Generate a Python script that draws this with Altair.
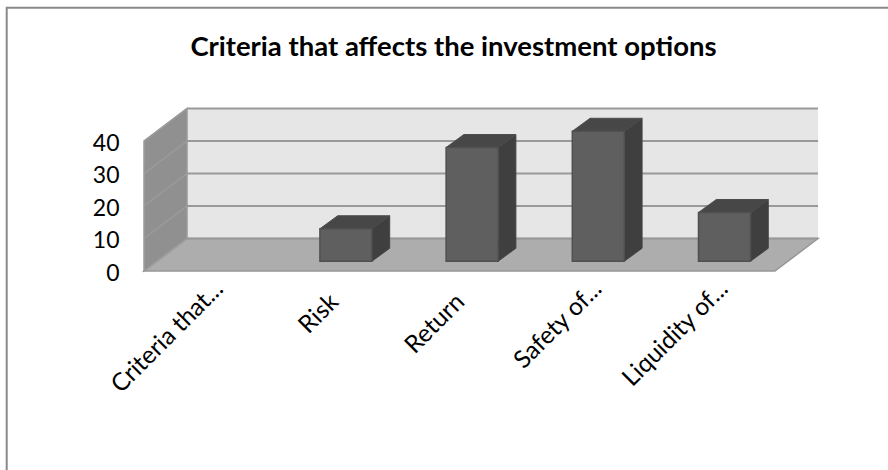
import json
import altair as alt
import pandas as pd

# Chart values
categories = ["Criteria that...", "Risk", "Return", "Safety of...", "Liquidity of..."]
values = [0, 10, 35, 40, 15]
y_ticks = [0, 10, 20, 30, 40]

# Oblique projection, in axis units: how far the back wall sits from the front plane
DEPTH_X = 0.341
DEPTH_Y = 10
# Bars stand in the middle of the floor
GAP_X, GAP_Y = 0.1, 3
BAR_DX, BAR_DY = 0.141, 4
BAR_W = 0.412
N = len(categories)
TOP = max(y_ticks)

FONT = "Lato"
VIEW_W, VIEW_H = 882, 463
x_scale = alt.Scale(domain=[0, N + DEPTH_X], range=[138, 812], nice=False, zero=False)
y_scale = alt.Scale(domain=[0, TOP + DEPTH_Y], range=[264, 101.5], nice=False, zero=False)

# Labels without a trailing ellipsis sit further down their slant
short_labels = "datum.value == 1.5 || datum.value == 2.5"
x_axis = alt.Axis(
    values=[i + 0.5 for i in range(N)],
    labelExpr=json.dumps(categories) + "[datum.value - 0.5]",
    labelAngle=-45,
    labelAlign="right",
    labelBaseline="middle",
    labelOffset={"condition": {"test": short_labels, "value": 1}, "value": 12},
    labelPadding={"condition": {"test": short_labels, "value": 27}, "value": 14},
    labelFont=FONT,
    labelFontSize=24.5,
    labelColor="#000000",
    labelOverlap=False,
    labelBound=False,
    labelFlush=False,
    domain=False,
    ticks=False,
    grid=False,
    title=None,
    offset=264 - VIEW_H,
)
y_axis = alt.Axis(
    values=y_ticks,
    labelFont=FONT,
    labelFontSize=23,
    labelColor="#000000",
    labelPadding=0,
    labelOffset=2,
    domain=False,
    ticks=False,
    grid=False,
    title=None,
    offset=-113,
)

X = alt.X("x:Q", scale=x_scale, axis=x_axis)
X2 = alt.X2("x2:Q")
Y = alt.Y("y:Q", scale=y_scale, axis=y_axis)
Y2 = alt.Y2("y2:Q")

# Back wall, side wall and floor
back = pd.DataFrame([{"x": DEPTH_X, "x2": N + DEPTH_X, "y": DEPTH_Y, "y2": TOP + DEPTH_Y}])
side = pd.DataFrame(
    [{"x": 0, "y": 0, "y2": TOP}, {"x": DEPTH_X, "y": DEPTH_Y, "y2": TOP + DEPTH_Y}]
)
floor = pd.DataFrame(
    [{"y": 0, "x": 0, "x2": N}, {"y": DEPTH_Y, "x": DEPTH_X, "x2": N + DEPTH_X}]
)

back_layer = alt.Chart(back).mark_rect(color="#e6e6e6").encode(x=X, x2=X2, y=Y, y2=Y2)
side_layer = alt.Chart(side).mark_area(color="#909090", stroke="#9c9c9c", strokeWidth=1.5).encode(
    x=X, y=Y, y2=Y2
)
floor_layer = alt.Chart(floor).mark_area(
    orient="horizontal", color="#adadad", stroke="#969696", strokeWidth=1.5
).encode(y=Y, x=X, x2=X2)

# Gridlines run along the side wall, then across the back wall
side_rows, back_rows = [], []
for t in y_ticks:
    side_rows += [
        {"t": t, "x": 0, "y": t},
        {"t": t, "x": DEPTH_X, "y": t + DEPTH_Y},
    ]
    back_rows += [
        {"t": t, "x": DEPTH_X, "y": t + DEPTH_Y},
        {"t": t, "x": N + DEPTH_X, "y": t + DEPTH_Y},
    ]
side_grid = alt.Chart(pd.DataFrame(side_rows)).mark_line(
    color="#9c9c9c", strokeWidth=1.5
).encode(x=X, y=Y, detail="t:N")
back_grid = alt.Chart(pd.DataFrame(back_rows)).mark_line(
    color="#999999", strokeWidth=2
).encode(x=X, y=Y, detail="t:N")

# Three visible faces per bar
front_rows, right_rows, top_rows = [], [], []
for i, v in enumerate(values):
    if v <= 0:
        continue
    left = i + 0.5 - BAR_W / 2 + GAP_X
    right = left + BAR_W
    front_rows.append({"x": left, "x2": right, "y": GAP_Y, "y2": GAP_Y + v})
    right_rows += [
        {"b": i, "x": right, "y": GAP_Y, "y2": GAP_Y + v},
        {"b": i, "x": right + BAR_DX, "y": GAP_Y + BAR_DY, "y2": GAP_Y + BAR_DY + v},
    ]
    top_rows += [
        {"b": i, "y": GAP_Y + v, "x": left, "x2": right},
        {"b": i, "y": GAP_Y + v + BAR_DY, "x": left + BAR_DX, "x2": right + BAR_DX},
    ]

front_layer = alt.Chart(pd.DataFrame(front_rows)).mark_rect(
    color="#5f5f5f", stroke="#505050", strokeWidth=1.5
).encode(x=X, x2=X2, y=Y, y2=Y2)
right_layer = alt.Chart(pd.DataFrame(right_rows)).mark_area(
    color="#3f3f3f", stroke="#454545", strokeWidth=1
).encode(x=X, y=Y, y2=Y2, detail="b:N")
top_layer = alt.Chart(pd.DataFrame(top_rows)).mark_area(
    orient="horizontal", color="#474747", stroke="#4c4c4c", strokeWidth=1
).encode(y=Y, x=X, x2=X2, detail="b:N")

# Outer frame: only its top and left edges fall inside the canvas
frame_top = alt.Chart().mark_rule(color="#898989", strokeWidth=2).encode(
    x=alt.value(0), x2=alt.value(VIEW_W), y=alt.value(0.7)
)
frame_left = alt.Chart().mark_rule(color="#898989", strokeWidth=2).encode(
    x=alt.value(0.7), y=alt.value(0), y2=alt.value(VIEW_H)
)

chart = (
    alt.layer(
        back_layer, side_layer, floor_layer, side_grid, back_grid,
        right_layer, top_layer, front_layer, frame_top, frame_left,
    )
    .properties(
        width=VIEW_W,
        height=VIEW_H,
        padding={"left": 6, "top": 7, "right": 0, "bottom": 0},
        autosize=alt.AutoSizeParams(type="none"),
        background="#ffffff",
        title=alt.TitleParams(
            "Criteria that affects the investment options",
            anchor="middle",
            frame="group",
            font=FONT,
            fontSize=27.5,
            fontWeight="bold",
            color="#000000",
            dx=6.5,
            offset=-55,
        ),
    )
    .configure_view(stroke=None)
)

chart.save("out.html", embed_options={"renderer": "svg", "actions": False})
